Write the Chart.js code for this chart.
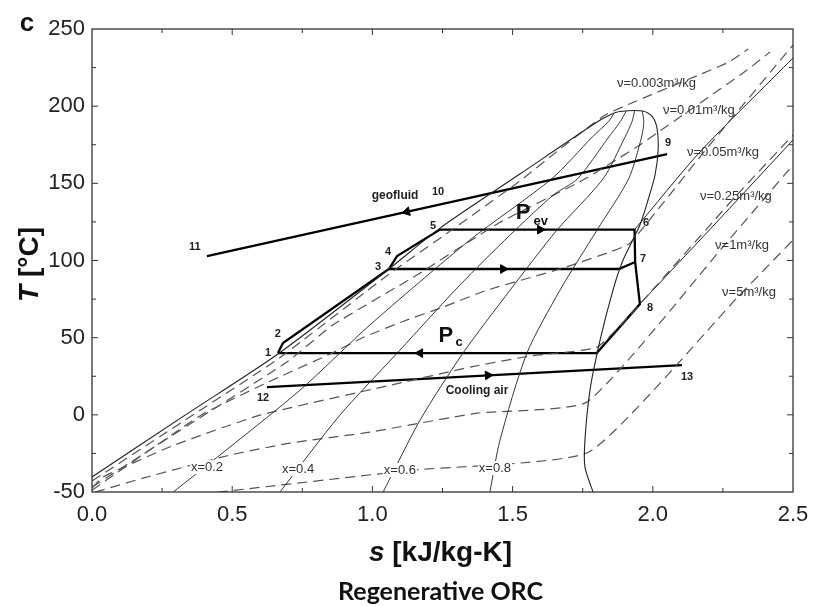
<!DOCTYPE html>
<html><head><meta charset="utf-8">
<script src="https://cdn.jsdelivr.net/npm/chart.js@4.4.1/dist/chart.umd.min.js"></script>
<style>html,body{margin:0;padding:0;background:#fff;}canvas{display:block;}</style>
</head><body>
<canvas id="c" width="813" height="606"></canvas>
<script>
// ---- axis ticks ----
const xTicks = [0, 0.5, 1.0, 1.5, 2.0, 2.5];
const yTicks = [-50, 0, 50, 100, 150, 200, 250];

// ---- saturation dome [s, T] ----
const saturationDome = [[0,-40.3],[0.332,-0.2],[0.663,39.4],[1.059,94.5],[1.241,121.0],[1.526,156.0],[1.801,189.7],[1.847,194.3],[1.883,196.5],[1.965,196.9],[1.997,193.6],[2.015,185.8],[2.019,171.6],[2.008,155.4],[1.983,139.2],[1.954,123.0],[1.894,100.3],[1.858,80.8],[1.812,48.4],[1.776,16.0],[1.758,-16.4],[1.758,-33.9],[1.787,-50.1]];

// ---- quality lines ----
const quality02 = [[0.289,-50.1],[0.456,-26.1],[0.742,16.0],[0.991,58.2],[1.348,113.3],[1.64,153],[1.784,180],[1.842,190],[1.86,195]];
const quality04 = [[0.670,-50.1],[0.884,-0.2],[1.098,41.9],[1.312,84.1],[1.491,116.5],[1.645,142.4],[1.732,153],[1.843,180],[1.884,190],[1.905,196.7]];
const quality06 = [[1.038,-50.1],[1.17,-3.4],[1.323,40],[1.491,80.8],[1.658,119.7],[1.823,153],[1.901,180],[1.926,190],[1.935,196.8]];
const quality08 = [[1.419,-50.1],[1.455,-16.4],[1.551,40],[1.669,80.8],[1.801,119.7],[1.914,153],[1.96,180],[1.968,190],[1.962,196.9]];

// ---- isochores (dashed) ----
const v0003 = [[0,-42.9],[0.332,-3.4],[0.663,36.1],[1.059,91.2],[1.252,115.8],[1.526,151.5],[1.669,172.2],[1.837,194.9],[2.265,228.0],[2.34,237.0]];
const v001 = [[0,-46.8],[0.349,-6.0],[0.695,34.2],[0.859,58.2],[1.159,90.6],[1.451,124.3],[1.751,152.1],[1.954,174.8],[2.015,182.6],[2.133,197.5],[2.336,223.4],[2.418,235.1]];
const v005 = [[0,-48.8],[0.389,-0.2],[0.613,19.9],[0.856,40.0],[0.970,50.4],[1.113,60.8],[1.252,69.8],[1.409,80.8],[1.669,94.5],[1.847,105.5],[1.919,111.3],[2.179,169.6],[2.5,239.6]];
const v025 = [[0,-47.5],[0.039,-40.3],[0.285,-20.2],[0.599,-0.2],[1.081,19.9],[1.348,30.9],[1.562,38.1],[1.801,43.9],[1.944,69.8],[2.293,141.1],[2.5,181.3]];
const v1 = [[0.011,-50.1],[0.182,-41.0],[0.492,-26.1],[0.706,-18.3],[0.991,-11.2],[1.373,1.1],[1.765,8.3],[2.265,112],[2.5,161.9]];
const v5 = [[0.449,-50.1],[1.145,-35.8],[1.772,-24.1],[2.300,75.7],[2.5,113.3]];

// ---- superheated isobars (thin solid) ----
const isobarEv = [[1.935,120],[2.168,170.3],[2.5,231.2]];
const isobarC = [[1.954,71.8],[2.208,121],[2.5,178.1]];

// ---- cycle ----
const cycleMain = [[0.663,40],[0.681,46.5],[1.059,94.5],[1.088,102.9],[1.241,120],[1.935,120],[1.937,99],[1.954,71.8],[1.80,40],[0.663,40]];
const cycleMid = [[1.059,94.5],[1.879,94.5],[1.937,99]];
const geofluid = [[2.051,169],[0.41,102.9]];
const coolingAir = [[0.624,18],[2.104,32.2]];

// ---- arrows ----
const arrowPts = [[1.598,120],[1.466,94.5],[1.17,40],[1.123,131.6],[1.412,25.6]];
const arrowRot = [90, 90, 270, 257.5, 87];

// ---- text labels [text, s, T] ----
const pointLabels = [['1',0.628,40],['2',0.663,52.3],['3',1.02,95.8],['4',1.056,105.5],['5',1.216,122.3],['6',1.976,124.3],['7',1.965,101],['8',1.99,69.2],['9',2.054,176.1],['10',1.234,144.4],['11',0.367,108.7],['12',0.61,10.9],['13',2.122,24.5]];
const streamLabels = [['geofluid',1.081,141.8],['Cooling air',1.373,15.4]];
const volumeLabels = [['\u03bd=0.003m\u00b3/kg',1.872,215],['\u03bd=0.01m\u00b3/kg',2.036,197.5],['\u03bd=0.05m\u00b3/kg',2.122,170.3],['\u03bd=0.25m\u00b3/kg',2.168,141.8],['\u03bd=1m\u00b3/kg',2.222,110],['\u03bd=5m\u00b3/kg',2.247,79.6]];
const qualityLabels = [['x=0.2',0.41,-33.9],['x=0.4',0.735,-35.2],['x=0.6',1.098,-35.8],['x=0.8',1.437,-34.5]];

const toXY = a => a.map(p => ({x:p[0], y:p[1]}));
const solidThin = (d, w) => ({data:toXY(d), showLine:true, borderColor:'#222', borderWidth:w||1, pointRadius:0, tension:0.25, fill:false});
const dashed = d => ({data:toXY(d), showLine:true, borderColor:'#555', borderWidth:1.2, borderDash:[10,6], pointRadius:0, tension:0.15, fill:false});
const thick = d => ({data:toXY(d), showLine:true, borderColor:'#000', borderWidth:2.3, pointRadius:0, tension:0, fill:false});

const datasets = [
  solidThin(saturationDome, 1.1),
  solidThin(quality02, 0.9), solidThin(quality04, 0.9), solidThin(quality06, 0.9), solidThin(quality08, 0.9),
  dashed(v0003), dashed(v001), dashed(v005), dashed(v025), dashed(v1), dashed(v5),
  solidThin(isobarEv, 1), solidThin(isobarC, 1),
  thick(cycleMain), thick(cycleMid), thick(geofluid), thick(coolingAir),
  {data:toXY(arrowPts), showLine:false, pointStyle:'triangle', pointRadius:5, pointRotation:arrowRot, backgroundColor:'#000', borderColor:'#000', borderWidth:1}
];

const overlay = {
  id:'overlay',
  afterDatasetsDraw(chart){
    const {ctx, chartArea:a, scales:{x, y}} = chart;
    const X = v => x.getPixelForValue(v), Y = v => y.getPixelForValue(v);
    ctx.save();
    ctx.strokeStyle = '#333'; ctx.lineWidth = 1.3;
    ctx.strokeRect(a.left, a.top, a.right - a.left, a.bottom - a.top);
    ctx.lineWidth = 1;
    const seg = (x1,y1,x2,y2) => {ctx.beginPath(); ctx.moveTo(x1,y1); ctx.lineTo(x2,y2); ctx.stroke();};
    for (let i = 1; i < 10; i++) {
      const v = i * 0.25, px = X(v), L = (i % 2 === 0) ? 6 : 4;
      seg(px, a.bottom, px, a.bottom - L); seg(px, a.top, px, a.top + L);
    }
    for (let i = 1; i < 12; i++) {
      const v = -50 + i * 25, py = Y(v), L = (i % 2 === 0) ? 6 : 4;
      seg(a.left, py, a.left + L, py); seg(a.right, py, a.right - L, py);
    }
    ctx.textAlign = 'center'; ctx.textBaseline = 'middle';
    ctx.fillStyle = '#222';
    ctx.font = 'bold 11px "Liberation Sans", Arial';
    pointLabels.forEach(l => ctx.fillText(l[0], X(l[1]), Y(l[2])));
    ctx.font = 'bold 12px "Liberation Sans", Arial';
    streamLabels.forEach(l => ctx.fillText(l[0], X(l[1]), Y(l[2])));
    // P labels
    ctx.fillStyle = '#111';
    ctx.font = 'bold 22px "Liberation Sans", Arial';
    ctx.fillText('P', X(1.537), Y(130.8));
    ctx.fillText('P', X(1.262), Y(51));
    ctx.font = 'bold 13px "Liberation Sans", Arial';
    ctx.fillText('ev', X(1.60), Y(125));
    ctx.fillText('c', X(1.309), Y(47.1));
    // volume labels
    ctx.fillStyle = '#333'; ctx.textAlign = 'left';
    ctx.font = '13px "Liberation Sans", Arial';
    volumeLabels.forEach(l => ctx.fillText(l[0], X(l[1]), Y(l[2])));
    // quality labels
    ctx.textAlign = 'center';
    qualityLabels.forEach(l => {
      const w = ctx.measureText(l[0]).width;
      ctx.fillStyle = '#fff'; ctx.fillRect(X(l[1]) - w/2 - 1, Y(l[2]) - 7, w + 2, 14);
      ctx.fillStyle = '#333'; ctx.fillText(l[0], X(l[1]), Y(l[2]));
    });
    // panel letter
    ctx.fillStyle = '#111';
    ctx.font = 'bold 26px "Liberation Sans", Arial';
    ctx.fillText('c', 27, 24);
    // x-axis title
    const cx = (a.left + a.right) / 2 - 2;
    const F = 28;
    ctx.font = 'italic bold ' + F + 'px "Liberation Sans", Arial';
    const w1 = ctx.measureText('s ').width;
    ctx.font = 'bold ' + F + 'px "Liberation Sans", Arial';
    const w2 = ctx.measureText('[kJ/kg-K]').width;
    const start = cx - (w1 + w2) / 2;
    ctx.textAlign = 'left';
    ctx.font = 'italic bold ' + F + 'px "Liberation Sans", Arial';
    ctx.fillText('s ', start, 553);
    ctx.font = 'bold ' + F + 'px "Liberation Sans", Arial';
    ctx.fillText('[kJ/kg-K]', start + w1, 553);
    // bottom title
    ctx.textAlign = 'center';
    ctx.font = 'bold 25px Lato, "Open Sans", sans-serif';
    ctx.fillText('Regenerative ORC', cx, 592);
    // y-axis title
    ctx.save();
    ctx.translate(30, (a.top + a.bottom) / 2 + 4);
    ctx.rotate(-Math.PI / 2);
    ctx.font = 'italic bold ' + F + 'px "Liberation Sans", Arial';
    const t1 = ctx.measureText('T ').width;
    ctx.font = 'bold ' + F + 'px "Liberation Sans", Arial';
    const t2 = ctx.measureText('[\u00b0C]').width;
    ctx.textAlign = 'left';
    ctx.font = 'italic bold ' + F + 'px "Liberation Sans", Arial';
    ctx.fillText('T ', -(t1 + t2) / 2, 0);
    ctx.font = 'bold ' + F + 'px "Liberation Sans", Arial';
    ctx.fillText('[\u00b0C]', -(t1 + t2) / 2 + t1, 0);
    ctx.restore();
    ctx.restore();
  }
};

new Chart(document.getElementById('c'), {
  type:'scatter',
  data:{datasets},
  options:{
    responsive:false, animation:false, devicePixelRatio:1,
    layout:{padding:{left:0, right:20, top:29, bottom:0}},
    plugins:{legend:{display:false}, tooltip:{enabled:false}, title:{display:false}},
    scales:{
      x:{type:'linear', min:0, max:2.5,
         afterBuildTicks: s => { s.ticks = xTicks.map(v => ({value:v})); },
         afterFit: s => { s.height = 114; s.paddingRight = 0; s.paddingLeft = 0; },
         grid:{display:false, drawTicks:false}, border:{display:false},
         ticks:{padding:10, color:'#222', font:{size:22, family:'"Liberation Sans", Arial'}, callback: v => Number(v).toFixed(1)}},
      y:{type:'linear', min:-50, max:250,
         afterBuildTicks: s => { s.ticks = yTicks.map(v => ({value:v})); },
         afterFit: s => { s.width = 92; s.paddingTop = 0; s.paddingBottom = 0; },
         grid:{display:false, drawTicks:false}, border:{display:false},
         ticks:{padding:7, color:'#222', font:{size:22, family:'"Liberation Sans", Arial'}}}
    }
  },
  plugins:[overlay]
});
</script>
</body></html>
